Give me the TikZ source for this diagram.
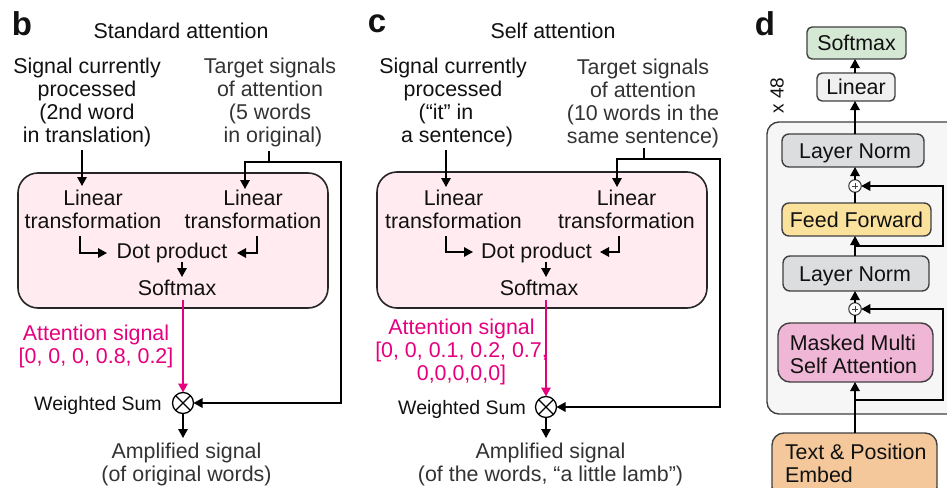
\documentclass[tikz,border=0pt]{standalone}
\usepackage{fontspec}
\setmainfont{Liberation Sans}
\usetikzlibrary{arrows.meta}
\definecolor{dk}{HTML}{111111}
\definecolor{gr}{HTML}{333333}
\definecolor{mag}{HTML}{E6007E}
\definecolor{pink1}{HTML}{FFEBF0}
\definecolor{green1}{HTML}{D5E8D4}
\definecolor{grey1}{HTML}{DCDDDF}
\definecolor{yel1}{HTML}{FAE29C}
\definecolor{pink2}{HTML}{F0B6D6}
\definecolor{org1}{HTML}{F5C89B}
\tikzset{
  x=1pt,y=-1pt,
  txt/.style={inner sep=0,outer sep=0,align=center,text=dk,font=\fontsize{21.4}{23}\selectfont},
  gtxt/.style={txt,text=gr},
  mtxt/.style={txt,text=mag},
  wsum/.style={txt,font=\fontsize{19.5}{22}\selectfont},
  letter/.style={inner sep=0,text=dk,font=\fontsize{33}{33}\selectfont\bfseries},
  panel/.style={draw=black!85,line width=1.6pt,fill=pink1,rounded corners=20pt,inner sep=0,outer sep=0},
  blk/.style={draw=black!75,line width=1.4pt,rounded corners=5pt,inner sep=0,outer sep=0,text=dk,align=center,font=\fontsize{21.4}{23}\selectfont},
  arr/.style={draw=black,line width=1.4pt,-{Triangle[length=9pt,width=9.5pt]}},
  ln/.style={draw=black,line width=1.4pt},
  marr/.style={draw=mag,line width=1.6pt,-{Triangle[length=9pt,width=9.5pt]}},
  times/.style={circle,draw=black,line width=1.3pt,minimum size=21pt,inner sep=0,outer sep=0,
    path picture={\draw[line width=1.3pt] (path picture bounding box.north west)--(path picture bounding box.south east)
      (path picture bounding box.north east)--(path picture bounding box.south west);}},
  plusn/.style={circle,draw=black!75,fill=white,line width=1.1pt,minimum size=12.5pt,inner sep=0,outer sep=0,
    path picture={\draw[line width=.7pt] ([xshift=-3pt]path picture bounding box.center)--([xshift=3pt]path picture bounding box.center)
      ([yshift=-3pt]path picture bounding box.center)--([yshift=3pt]path picture bounding box.center);}},
}
\begin{document}
\begin{tikzpicture}
\useasboundingbox (0,0) rectangle (947,487);
\clip (0,0) rectangle (947,487);
\fill[white] (0,0) rectangle (947,487);
% ---------- panel b
\node[letter] (lb) at (22,24) {b};
\node[txt] (tb) at (181,31) {Standard attention};
\node[panel,minimum width=310pt,minimum height=135pt] (pb) at (173,240.5) {};
\node[txt] (sb) at (87,102) {Signal currently\\processed\\(2nd word\\in translation)};
\node[gtxt] (gb) at (270,102) {Target signals\\of attention\\(5 words\hspace*{16pt}\\\hspace*{6pt}in original)};
\node[txt] (l1b) at (93,209) {Linear\\transformation};
\node[txt] (l2b) at (253,209) {Linear\\transformation};
\node[txt] (db) at (172,253) {Dot product};
\node[txt] (sfb) at (177,288) {Softmax};
\node[mtxt] (ab) at (96,346.5) {Attention signal\\{[0, 0, 0, 0.8, 0.2]}};
\node[times] (xb) at (183,403) {};
\node[wsum] (wb) at (98,405) {Weighted Sum};
\node[gtxt] (ob) at (186.5,464.5) {Amplified signal\\(of original words)};
\coordinate (s1b) at (82,150);
\coordinate (e1b) at (82,186);
\coordinate (s2b) at (269,151);
\coordinate (j2b) at (269,162);
\coordinate (c2b) at (245,162);
\coordinate (e2b) at (245,189);
\coordinate (c3b) at (341,162);
\draw[arr] (s1b) -- (e1b);
\draw[ln] (s2b) -- (j2b);
\draw[arr] (j2b) -- (c2b) -- (e2b);
\draw[arr] (j2b) -- (c3b) -- (c3b |- xb) -- (xb.east);
\draw[arr] (80,236) -- (80,253) -- (107,253);
\draw[arr] (257,236) -- (257,253) -- (237,253);
\draw[arr] (182,262) -- (182,277);
\draw[marr] (183,300) -- (xb.north);
\draw[arr] (xb.south) -- (183,438);
% ---------- panel c
\node[letter] (lc) at (377,24) {c};
\node[txt] (tc) at (553,31) {Self attention};
\node[panel,minimum width=330pt,minimum height=136pt] (pc) at (542,240) {};
\node[txt] (sc) at (453,102) {Signal currently\\processed\\\hspace*{-14pt}(“it” in\\\hspace*{8pt}a sentence)};
\node[gtxt] (gc) at (643,103.5) {Target signals\\of attention\\(10 words in the\\same sentence)};
\node[txt] (l1c) at (453.5,209) {Linear\\transformation};
\node[txt] (l2c) at (626.5,209) {Linear\\transformation};
\node[txt] (dc) at (536.5,253) {Dot product};
\node[txt] (sfc) at (539,288) {Softmax};
\node[mtxt] (ac) at (461.5,352) {Attention signal\\{[0, 0, 0.1, 0.2, 0.7,}\\0,0,0,0,0]};
\node[times] (xc) at (546,407) {};
\node[wsum] (wc) at (462,409) {Weighted Sum};
\node[gtxt] (oc) at (550.5,464.5) {Amplified signal\\(of the words, “a little lamb”)};
\coordinate (s1c) at (446,150);
\coordinate (e1c) at (446,187);
\coordinate (s2c) at (644,148);
\coordinate (j2c) at (644,159);
\coordinate (c2c) at (617,159);
\coordinate (e2c) at (617,187);
\coordinate (c3c) at (720,159);
\draw[arr] (s1c) -- (e1c);
\draw[ln] (s2c) -- (j2c);
\draw[arr] (j2c) -- (c2c) -- (e2c);
\draw[arr] (j2c) -- (c3c) -- (c3c |- xc) -- (xc.east);
\draw[arr] (446,236) -- (446,252) -- (473,252);
\draw[arr] (619,236) -- (619,252) -- (600,252);
\draw[arr] (546,262) -- (546,277);
\draw[marr] (546,300) -- (xc.north);
\draw[arr] (xc.south) -- (546,438);
% ---------- panel d
\node[letter] (ld) at (765,24) {d};
\node[blk,fill=black!3.5,draw=black!75,rounded corners=12pt,minimum width=240pt,minimum height=292pt] (outer) at (887,268) {};
\node[blk,fill=green1,minimum width=99pt,minimum height=32pt] (sm) at (856.5,43) {Softmax};
\node[blk,fill=black!6,minimum width=78pt,minimum height=28pt] (li) at (856,87) {Linear};
\node[txt,rotate=90,font=\fontsize{19}{21}\selectfont] (x48) at (777,95.5) {x 48};
\node[blk,fill=grey1,rounded corners=7pt,minimum width=142pt,minimum height=33pt,text height=16pt,text depth=1pt] (n1) at (853,150.5) {\hspace*{4pt}Layer Norm};
\node[plusn] (p1) at (855,186) {};
\node[blk,fill=yel1,rounded corners=7pt,minimum width=149pt,minimum height=33pt] (ff) at (856.5,219.5) {Feed Forward};
\node[blk,fill=grey1,rounded corners=7pt,minimum width=146pt,minimum height=35pt,text height=16pt,text depth=1pt] (n2) at (856,273.5) {Layer Norm\hspace*{2pt}};
\node[plusn] (p2) at (855,309) {};
\node[blk,fill=pink2,rounded corners=12pt,minimum width=155pt,minimum height=59pt,align=left] (ma) at (855.5,352.5) {};
\node[txt,align=left] (mat) at (853.5,354) {Masked Multi\\Self Attention};
\node[blk,fill=org1,rounded corners=12pt,minimum width=165pt,minimum height=66pt] (te) at (854.5,466) {};
\node[txt,align=left,anchor=west] (tet) at (785,463) {Text \& Position\\Embed};
\coordinate (j1) at (855,246);
\coordinate (j2) at (855,400);
\coordinate (r1) at (943,246);
\coordinate (r2) at (943,400);
\draw[arr] (li.north -| p1) -- (sm.south -| p1);
\draw[arr] (n1.north -| p1) -- (li.south -| p1);
\draw[arr] (p1.north) -- (n1.south -| p1);
\draw[ln] (ff.north -| p1) -- (p1.south);
\draw[arr] (n2.north -| p1) -- (ff.south -| p1);
\draw[arr] (j1) -- (r1) -- (r1 |- p1) -- (p1.east);
\draw[arr] (p2.north) -- (n2.south -| p2);
\draw[ln] (ma.north -| p2) -- (p2.south);
\draw[arr] (j2) -- (r2) -- (r2 |- p2) -- (p2.east);
\draw[arr] (te.north -| p2) -- (ma.south -| p2);
\end{tikzpicture}
\end{document}
